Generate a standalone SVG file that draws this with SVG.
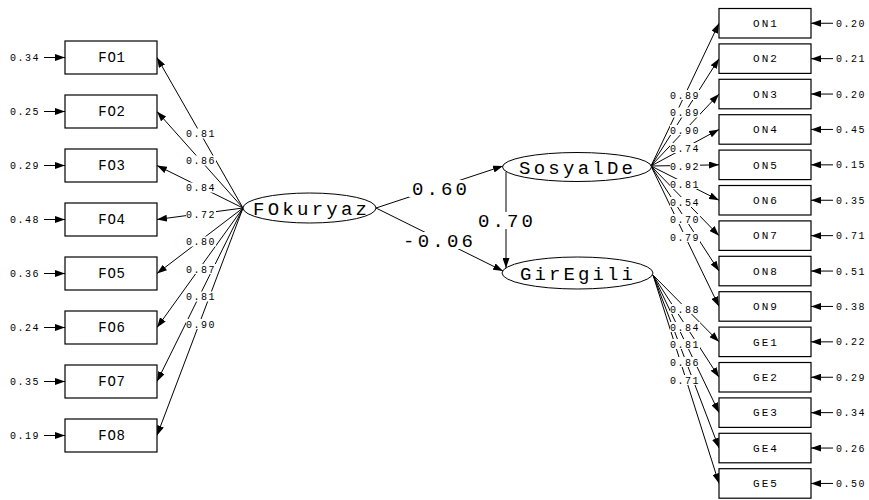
<svg xmlns="http://www.w3.org/2000/svg" width="869" height="500" viewBox="0 0 869 500">
<style>
.box{fill:#fff;stroke:#000;stroke-width:1.2}
.lat{fill:#fff;stroke:#000;stroke-width:1}
.ln{stroke:#000;stroke-width:1;fill:none;marker-end:url(#ah)}
.bg{fill:#fff}
.bt{font-family:"Liberation Mono",monospace;font-size:14px;letter-spacing:0.8px;text-anchor:middle;fill:#000}
.bs{font-family:"Liberation Mono",monospace;font-size:11px;letter-spacing:2px;text-anchor:middle;fill:#000}
.lt{font-family:"Liberation Mono",monospace;font-size:19px;fill:#000}
.sl{font-family:"Liberation Mono",monospace;font-size:10px;letter-spacing:1.5px;fill:#000}
.ll{font-family:"Liberation Mono",monospace;font-size:10px;letter-spacing:1.5px;fill:#000;text-anchor:middle}
.pl{font-family:"Liberation Mono",monospace;font-size:19px;fill:#000}
</style>
<defs>
<marker id="ah" markerUnits="userSpaceOnUse" markerWidth="10" markerHeight="7" refX="10" refY="3.5" orient="auto">
<path d="M0,0 L10,3.5 L0,7 z" fill="#000"/>
</marker>
</defs>
<rect width="869" height="500" fill="#fff"/>

<g id="connectors">
<line class="ln" x1="44" y1="57.5" x2="65" y2="57.5"/>
<line class="ln" x1="44" y1="111.5" x2="65" y2="111.5"/>
<line class="ln" x1="44" y1="165.5" x2="65" y2="165.5"/>
<line class="ln" x1="44" y1="219.5" x2="65" y2="219.5"/>
<line class="ln" x1="44" y1="273.5" x2="65" y2="273.5"/>
<line class="ln" x1="44" y1="327.5" x2="65" y2="327.5"/>
<line class="ln" x1="44" y1="381.5" x2="65" y2="381.5"/>
<line class="ln" x1="44" y1="435.5" x2="65" y2="435.5"/>
<line class="ln" x1="833" y1="23.25" x2="811" y2="23.25"/>
<line class="ln" x1="833" y1="58.65" x2="811" y2="58.65"/>
<line class="ln" x1="833" y1="94.05" x2="811" y2="94.05"/>
<line class="ln" x1="833" y1="129.45" x2="811" y2="129.45"/>
<line class="ln" x1="833" y1="164.85" x2="811" y2="164.85"/>
<line class="ln" x1="833" y1="200.25" x2="811" y2="200.25"/>
<line class="ln" x1="833" y1="235.65" x2="811" y2="235.65"/>
<line class="ln" x1="833" y1="271.05" x2="811" y2="271.05"/>
<line class="ln" x1="833" y1="306.45" x2="811" y2="306.45"/>
<line class="ln" x1="833" y1="341.85" x2="811" y2="341.85"/>
<line class="ln" x1="833" y1="377.25" x2="811" y2="377.25"/>
<line class="ln" x1="833" y1="412.65" x2="811" y2="412.65"/>
<line class="ln" x1="833" y1="448.05" x2="811" y2="448.05"/>
<line class="ln" x1="833" y1="483.45" x2="811" y2="483.45"/>
<line class="ln" x1="243" y1="208" x2="157" y2="57.5"/>
<line class="ln" x1="243" y1="208" x2="157" y2="111.5"/>
<line class="ln" x1="243" y1="208" x2="157" y2="165.5"/>
<line class="ln" x1="243" y1="208" x2="157" y2="219.5"/>
<line class="ln" x1="243" y1="208" x2="157" y2="273.5"/>
<line class="ln" x1="243" y1="208" x2="157" y2="327.5"/>
<line class="ln" x1="243" y1="208" x2="157" y2="381.5"/>
<line class="ln" x1="243" y1="208" x2="157" y2="435.5"/>
<line class="ln" x1="651" y1="166" x2="719" y2="23.25"/>
<line class="ln" x1="651" y1="166" x2="719" y2="58.65"/>
<line class="ln" x1="651" y1="166" x2="719" y2="94.05"/>
<line class="ln" x1="651" y1="166" x2="719" y2="129.45"/>
<line class="ln" x1="651" y1="166" x2="719" y2="164.85"/>
<line class="ln" x1="651" y1="166" x2="719" y2="200.25"/>
<line class="ln" x1="651" y1="166" x2="719" y2="235.65"/>
<line class="ln" x1="651" y1="166" x2="719" y2="271.05"/>
<line class="ln" x1="651" y1="166" x2="719" y2="306.45"/>
<line class="ln" x1="653" y1="275" x2="719" y2="341.85"/>
<line class="ln" x1="653" y1="275" x2="719" y2="377.25"/>
<line class="ln" x1="653" y1="275" x2="719" y2="412.65"/>
<line class="ln" x1="653" y1="275" x2="719" y2="448.05"/>
<line class="ln" x1="653" y1="275" x2="719" y2="483.45"/>
<line class="ln" x1="376" y1="208" x2="503" y2="166"/>
<line class="ln" x1="376" y1="208" x2="503" y2="271"/>
<line class="ln" x1="506" y1="172" x2="506" y2="268"/>
</g>

<g id="path-labels">
<rect class="bg" x="186" y="128.5" width="30" height="10"/><text class="ll" x="201" y="137">0.81</text>
<rect class="bg" x="186" y="155.5" width="30" height="10"/><text class="ll" x="201" y="164">0.86</text>
<rect class="bg" x="186" y="182.5" width="30" height="10"/><text class="ll" x="201" y="191">0.84</text>
<rect class="bg" x="186" y="209" width="30" height="10"/><text class="ll" x="201" y="217.5">0.72</text>
<rect class="bg" x="186" y="236.5" width="30" height="10"/><text class="ll" x="201" y="245">0.80</text>
<rect class="bg" x="186" y="264" width="30" height="10"/><text class="ll" x="201" y="272.5">0.87</text>
<rect class="bg" x="186" y="291.5" width="30" height="10"/><text class="ll" x="201" y="300">0.81</text>
<rect class="bg" x="186" y="319" width="30" height="10"/><text class="ll" x="201" y="327.5">0.90</text>
<rect class="bg" x="670" y="90" width="30" height="10"/><text class="ll" x="685" y="98.5">0.89</text>
<rect class="bg" x="670" y="107.5" width="30" height="10"/><text class="ll" x="685" y="116">0.89</text>
<rect class="bg" x="670" y="125" width="30" height="10"/><text class="ll" x="685" y="133.5">0.90</text>
<rect class="bg" x="670" y="143" width="30" height="10"/><text class="ll" x="685" y="151.5">0.74</text>
<rect class="bg" x="670" y="161" width="30" height="10"/><text class="ll" x="685" y="169.5">0.92</text>
<rect class="bg" x="670" y="179" width="30" height="10"/><text class="ll" x="685" y="187.5">0.81</text>
<rect class="bg" x="670" y="197" width="30" height="10"/><text class="ll" x="685" y="205.5">0.54</text>
<rect class="bg" x="670" y="214" width="30" height="10"/><text class="ll" x="685" y="222.5">0.70</text>
<rect class="bg" x="670" y="232" width="30" height="10"/><text class="ll" x="685" y="240.5">0.79</text>
<rect class="bg" x="670" y="304" width="30" height="10"/><text class="ll" x="685" y="312.5">0.88</text>
<rect class="bg" x="670" y="322" width="30" height="10"/><text class="ll" x="685" y="330.5">0.84</text>
<rect class="bg" x="670" y="339" width="30" height="10"/><text class="ll" x="685" y="347.5">0.81</text>
<rect class="bg" x="670" y="357" width="30" height="10"/><text class="ll" x="685" y="365.5">0.86</text>
<rect class="bg" x="670" y="375" width="30" height="10"/><text class="ll" x="685" y="383.5">0.71</text>
<rect class="bg" x="409" y="180" width="61" height="17"/><text class="pl" x="412" y="195" textLength="55" lengthAdjust="spacing">0.60</text>
<rect class="bg" x="400" y="232" width="76" height="17"/><text class="pl" x="403" y="247" textLength="70" lengthAdjust="spacing">-0.06</text>
<rect class="bg" x="475" y="212" width="61" height="17"/><text class="pl" x="478" y="227" textLength="55" lengthAdjust="spacing">0.70</text>
</g>

<g id="err-left">
<text class="sl" x="10" y="61">0.34</text>
<text class="sl" x="10" y="115">0.25</text>
<text class="sl" x="10" y="169">0.29</text>
<text class="sl" x="10" y="223">0.48</text>
<text class="sl" x="10" y="277">0.36</text>
<text class="sl" x="10" y="331">0.24</text>
<text class="sl" x="10" y="385">0.35</text>
<text class="sl" x="10" y="439">0.19</text>
</g>
<g id="err-right">
<text class="sl" x="836" y="26.75">0.20</text>
<text class="sl" x="836" y="62.15">0.21</text>
<text class="sl" x="836" y="97.55">0.20</text>
<text class="sl" x="836" y="132.95">0.45</text>
<text class="sl" x="836" y="168.35">0.15</text>
<text class="sl" x="836" y="203.75">0.35</text>
<text class="sl" x="836" y="239.15">0.71</text>
<text class="sl" x="836" y="274.55">0.51</text>
<text class="sl" x="836" y="309.95">0.38</text>
<text class="sl" x="836" y="345.35">0.22</text>
<text class="sl" x="836" y="380.75">0.29</text>
<text class="sl" x="836" y="416.15">0.34</text>
<text class="sl" x="836" y="451.55">0.26</text>
<text class="sl" x="836" y="486.95">0.50</text>
</g>

<g id="FO1"><rect class="box" x="65" y="41" width="92" height="33"/><text class="bt" x="112" y="62">FO1</text></g>
<g id="FO2"><rect class="box" x="65" y="95" width="92" height="33"/><text class="bt" x="112" y="116">FO2</text></g>
<g id="FO3"><rect class="box" x="65" y="149" width="92" height="33"/><text class="bt" x="112" y="170">FO3</text></g>
<g id="FO4"><rect class="box" x="65" y="203" width="92" height="33"/><text class="bt" x="112" y="224">FO4</text></g>
<g id="FO5"><rect class="box" x="65" y="257" width="92" height="33"/><text class="bt" x="112" y="278">FO5</text></g>
<g id="FO6"><rect class="box" x="65" y="311" width="92" height="33"/><text class="bt" x="112" y="332">FO6</text></g>
<g id="FO7"><rect class="box" x="65" y="365" width="92" height="33"/><text class="bt" x="112" y="386">FO7</text></g>
<g id="FO8"><rect class="box" x="65" y="419" width="92" height="33"/><text class="bt" x="112" y="440">FO8</text></g>

<g id="ON1"><rect class="box" x="719" y="8.5" width="92" height="29.5"/><text class="bs" x="766" y="27">ON1</text></g>
<g id="ON2"><rect class="box" x="719" y="43.9" width="92" height="29.5"/><text class="bs" x="766" y="62.4">ON2</text></g>
<g id="ON3"><rect class="box" x="719" y="79.3" width="92" height="29.5"/><text class="bs" x="766" y="97.8">ON3</text></g>
<g id="ON4"><rect class="box" x="719" y="114.7" width="92" height="29.5"/><text class="bs" x="766" y="133.2">ON4</text></g>
<g id="ON5"><rect class="box" x="719" y="150.1" width="92" height="29.5"/><text class="bs" x="766" y="168.6">ON5</text></g>
<g id="ON6"><rect class="box" x="719" y="185.5" width="92" height="29.5"/><text class="bs" x="766" y="204">ON6</text></g>
<g id="ON7"><rect class="box" x="719" y="220.9" width="92" height="29.5"/><text class="bs" x="766" y="239.4">ON7</text></g>
<g id="ON8"><rect class="box" x="719" y="256.3" width="92" height="29.5"/><text class="bs" x="766" y="274.8">ON8</text></g>
<g id="ON9"><rect class="box" x="719" y="291.7" width="92" height="29.5"/><text class="bs" x="766" y="310.2">ON9</text></g>
<g id="GE1"><rect class="box" x="719" y="327.1" width="92" height="29.5"/><text class="bs" x="766" y="345.6">GE1</text></g>
<g id="GE2"><rect class="box" x="719" y="362.5" width="92" height="29.5"/><text class="bs" x="766" y="381">GE2</text></g>
<g id="GE3"><rect class="box" x="719" y="397.9" width="92" height="29.5"/><text class="bs" x="766" y="416.4">GE3</text></g>
<g id="GE4"><rect class="box" x="719" y="433.3" width="92" height="29.5"/><text class="bs" x="766" y="451.8">GE4</text></g>
<g id="GE5"><rect class="box" x="719" y="468.7" width="92" height="29.5"/><text class="bs" x="766" y="487.2">GE5</text></g>

<g id="FOkuryaz"><ellipse class="lat" cx="309.5" cy="208" rx="66.5" ry="15"/><text class="lt" x="253" y="214.5" textLength="114" lengthAdjust="spacing">FOkuryaz</text></g>
<g id="SosyalDe"><ellipse class="lat" cx="577" cy="167" rx="74.5" ry="14.5"/><text class="lt" x="519" y="173.5" textLength="114" lengthAdjust="spacing">SosyalDe</text></g>
<g id="GirEgili"><ellipse class="lat" cx="577.5" cy="273" rx="75.5" ry="16"/><text class="lt" x="520" y="279.5" textLength="113" lengthAdjust="spacing">GirEgili</text></g>
</svg>
